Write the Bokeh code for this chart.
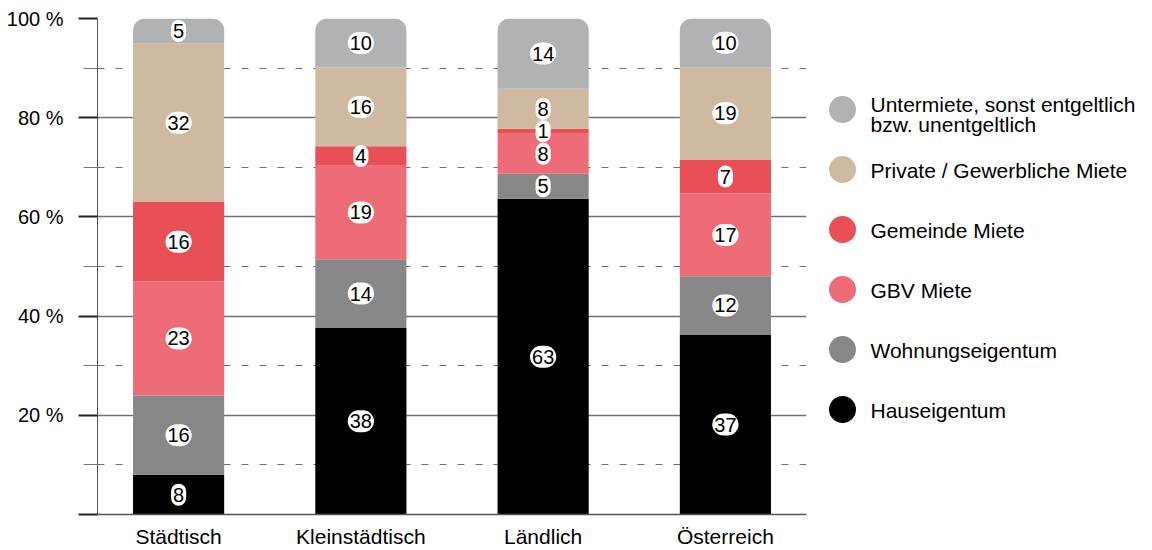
from bokeh.plotting import figure
from bokeh.models import ColumnDataSource, Range1d, FixedTicker
from bokeh.layouts import row
from bokeh.embed import file_html
from bokeh.resources import INLINE
from bokeh.core.properties import value

# ---------------- data ----------------
categories = ["Städtisch", "Kleinstädtisch", "Ländlich", "Österreich"]
series = ["Hauseigentum", "Wohnungseigentum", "GBV Miete", "Gemeinde Miete",
          "Private / Gewerbliche Miete", "Untermiete, sonst entgeltlich bzw. unentgeltlich"]
legend_labels = ["Hauseigentum", "Wohnungseigentum", "GBV Miete", "Gemeinde Miete",
                 "Private / Gewerbliche Miete", "Untermiete, sonst entgeltlich\nbzw. unentgeltlich"]

hauseigentum = [8, 38, 63, 37]
wohnungseigentum = [16, 14, 5, 12]
gbv_miete = [23, 19, 8, 17]
gemeinde_miete = [16, 4, 1, 7]
private_miete = [32, 16, 8, 19]
untermiete = [5, 10, 14, 10]

colors = ["#000000", "#878787", "#ee6b78", "#e94f56", "#d0b9a1", "#b1b2b4"]

y_ticks = [0, 20, 40, 60, 80, 100]
y_minor_ticks = [10, 30, 50, 70, 90]
y_tick_labels = ["", "20 %", "40 %", "60 %", "80 %", "100 %"]

FONT = "Liberation Sans"

# ---------------- derived ----------------
values = [hauseigentum, wohnungseigentum, gbv_miete, gemeinde_miete, private_miete, untermiete]
keys = ["s%d" % i for i in range(len(series))]
totals = [sum(v[i] for v in values) for i in range(len(categories))]
xs = list(range(len(categories)))

data = {"x": xs}
for k, v in zip(keys, values):
    data[k] = [v[i] / totals[i] * 100 for i in range(len(categories))]
source = ColumnDataSource(data)

lab_x, lab_y, lab_t = [], [], []
for i in range(len(categories)):
    base = 0.0
    for k, v in zip(keys, values):
        h = data[k][i]
        lab_x.append(xs[i])
        lab_y.append(base + h / 2)
        lab_t.append(str(v[i]))
        base += h
lab_src = ColumnDataSource(dict(x=lab_x, y=lab_y, t=lab_t))

# ---------------- main chart ----------------
p = figure(width=810, height=550, x_range=Range1d(-0.445, 3.445), y_range=Range1d(0, 100),
           output_backend="svg", toolbar_location=None,
           min_border_left=97, min_border_right=4, min_border_top=18, min_border_bottom=36)
p.outline_line_color = None
p.background_fill_color = "white"

rs = p.vbar_stack(keys, x="x", width=0.5, color=colors, source=source, line_color=None)
rs[-1].glyph.border_radius = (12, 12, 0, 0)

p.text(x="x", y="y", text="t", source=lab_src, text_align="center", text_baseline="middle",
       text_font=value(FONT), text_font_size="20px", text_color="black",
       background_fill_color="white", padding=(2, 4), border_radius=13)

yt = FixedTicker(ticks=y_ticks, minor_ticks=y_minor_ticks)
p.yaxis.ticker = yt
p.yaxis.major_label_overrides = {t: l for t, l in zip(y_ticks, y_tick_labels)}
p.yaxis.major_label_text_font = FONT
p.yaxis.major_label_text_font_size = "20px"
p.yaxis.major_label_text_color = "black"
p.yaxis.major_label_standoff = 15
p.yaxis.major_tick_out = 19
p.yaxis.major_tick_in = 0
p.yaxis.major_tick_line_color = "#222222"
p.yaxis.major_tick_line_width = 2
p.yaxis.minor_tick_out = 14
p.yaxis.minor_tick_in = 0
p.yaxis.minor_tick_line_color = "#777777"
p.yaxis.axis_line_color = "#555555"
p.yaxis.axis_line_width = 1

p.xaxis.ticker = FixedTicker(ticks=xs)
p.xaxis.major_label_overrides = {x: c for x, c in zip(xs, categories)}
p.xaxis.major_label_text_font = FONT
p.xaxis.major_label_text_font_size = "21px"
p.xaxis.major_label_text_color = "black"
p.xaxis.major_label_standoff = 10
p.xaxis.major_tick_out = 0
p.xaxis.major_tick_in = 0
p.xaxis.minor_tick_out = 0
p.xaxis.minor_tick_in = 0
p.xaxis.major_tick_line_color = None
p.xaxis.minor_tick_line_color = None
p.xaxis.axis_line_color = "#555555"
p.xaxis.axis_line_width = 1.5

p.xgrid.visible = False
p.ygrid.grid_line_color = "#707070"
p.ygrid.grid_line_width = 1.5
p.ygrid.minor_grid_line_color = "#707070"
p.ygrid.minor_grid_line_width = 1.2
p.ygrid.minor_grid_line_dash = "7 11"

# ---------------- legend panel ----------------
leg_idx = list(range(len(series)))
lg = figure(width=342, height=550, x_range=Range1d(0, 342), y_range=Range1d(-1.75, 6.5167),
            x_axis_type=None, y_axis_type=None, output_backend="svg", toolbar_location=None,
            min_border_left=0, min_border_right=0, min_border_top=18, min_border_bottom=36)
lg.outline_line_color = None
lg.grid.visible = False
leg_src = ColumnDataSource(dict(y=leg_idx, label=legend_labels, color=colors,
                                off=[1, 1, 1, 1, 1, 5]))
lg.scatter(x=32, y="y", size=27, color="color", line_color=None, source=leg_src)
lg.text(x=60, y="y", text="label", y_offset="off", source=leg_src, text_align="left",
        text_baseline="middle", text_font=value(FONT), text_font_size="21px",
        text_color="black", text_line_height=0.9)

layout = row(p, lg)
open("out.html", "w").write(file_html(layout, INLINE))
